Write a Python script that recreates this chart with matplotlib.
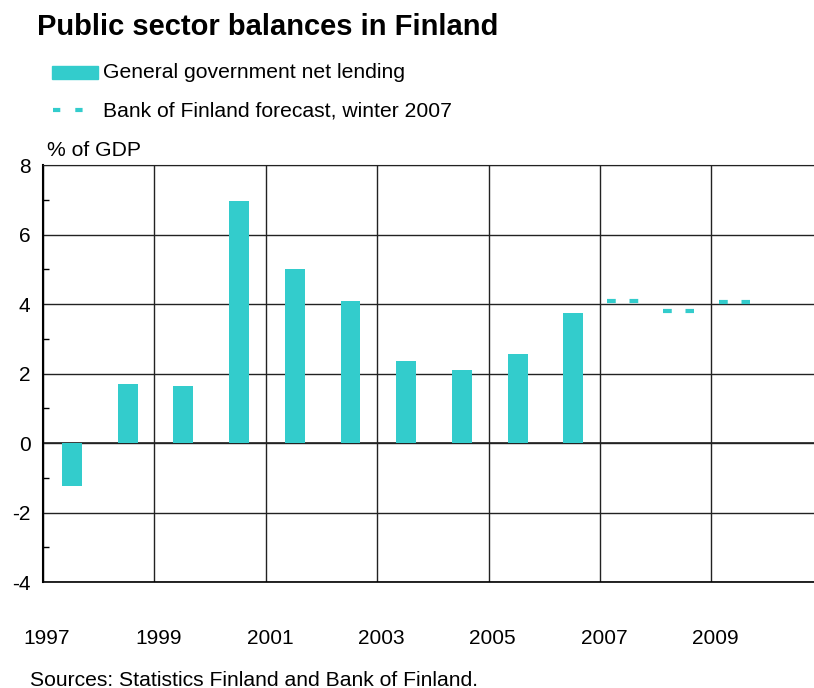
import matplotlib.pyplot as plt
import matplotlib.transforms as mtransforms
from matplotlib.lines import Line2D
from matplotlib.patches import Rectangle
from matplotlib.ticker import MultipleLocator

YEARS = [1997, 1998, 1999, 2000, 2001, 2002, 2003, 2004, 2005, 2006]
NET_LENDING = [-1.25, 1.7, 1.65, 6.95, 5.0, 4.1, 2.35, 2.1, 2.55, 3.75]

FORECAST_YEARS = [2007, 2008, 2009]
FORECAST = [4.1, 3.8, 4.05]

XTICK_YEARS = [1997, 1999, 2001, 2003, 2005, 2007, 2009]
XTICK_LABELS = [str(y) for y in XTICK_YEARS]

TEAL = "#33cccc"
GRID = "#222222"

plt.rcParams.update({
    "font.family": ["Liberation Sans", "DejaVu Sans"],
    "font.size": 15.2,
    "axes.unicode_minus": False,
})

fig = plt.figure(figsize=(8.14, 6.88), dpi=100)
ax = fig.add_axes([43 / 814, 106 / 688, 1 - 43 / 814, 417 / 688])

# bars sit in the middle of each year slot
ax.bar([y + 0.52 for y in YEARS], NET_LENDING, width=0.355, color=TEAL, zorder=3)

# forecast: two short dashes per year
for year, value in zip(FORECAST_YEARS, FORECAST):
    ax.plot([year + 0.13, year + 0.69], [value, value], color=TEAL, lw=3.0,
            linestyle=(0, (2.1, 3.3)), dash_capstyle="butt",
            solid_capstyle="butt", zorder=3)

ax.set_xlim(1997, 2010.84)
ax.set_ylim(-4, 8)
ax.set_xticks(XTICK_YEARS)
ax.set_xticklabels(XTICK_LABELS)
ax.set_yticks(range(-4, 9, 2))
ax.yaxis.set_minor_locator(MultipleLocator(1))

ax.grid(True, color=GRID, lw=1.0, zorder=1)
ax.axhline(0, color=GRID, lw=1.2, zorder=2)

ax.tick_params(axis="x", length=0, pad=34, labelsize=15)
ax.tick_params(axis="y", which="major", direction="in", length=0, pad=9, labelsize=15)
ax.tick_params(axis="y", which="minor", direction="in", length=4.5, width=1, color="black")

ax.spines["right"].set_visible(False)
ax.spines["top"].set_color(GRID)
ax.spines["left"].set_linewidth(1.5)
ax.spines["bottom"].set_linewidth(1.2)

offset = mtransforms.ScaledTranslation(4 / 100, 0, fig.dpi_scale_trans)
for label in ax.get_xticklabels():
    label.set_transform(label.get_transform() + offset)


# title, legend and notes in figure pixels
def fx(px):
    return px / 814


def fy(py):
    return 1 - py / 688


fig.text(fx(37), fy(27), "Public sector balances in Finland", fontsize=21,
         fontweight="bold", va="center", ha="left")

fig.patches.append(Rectangle((fx(52), fy(79)), fx(98) - fx(52), fy(66) - fy(79),
                             transform=fig.transFigure, color=TEAL))
fig.text(fx(103), fy(73), "General government net lending", va="center", ha="left")

fig.lines.append(Line2D([fx(53), fx(83)], [fy(110), fy(110)], transform=fig.transFigure,
                        color=TEAL, lw=3.0, linestyle=(0, (1.75, 3.6)),
                        dash_capstyle="butt"))
fig.text(fx(103), fy(111), "Bank of Finland forecast, winter 2007", va="center", ha="left")

fig.text(fx(47), fy(150), "% of GDP", va="center", ha="left")
fig.text(fx(30), fy(680), "Sources: Statistics Finland and Bank of Finland.",
         va="center", ha="left")

fig.savefig("out.png", dpi=100)
